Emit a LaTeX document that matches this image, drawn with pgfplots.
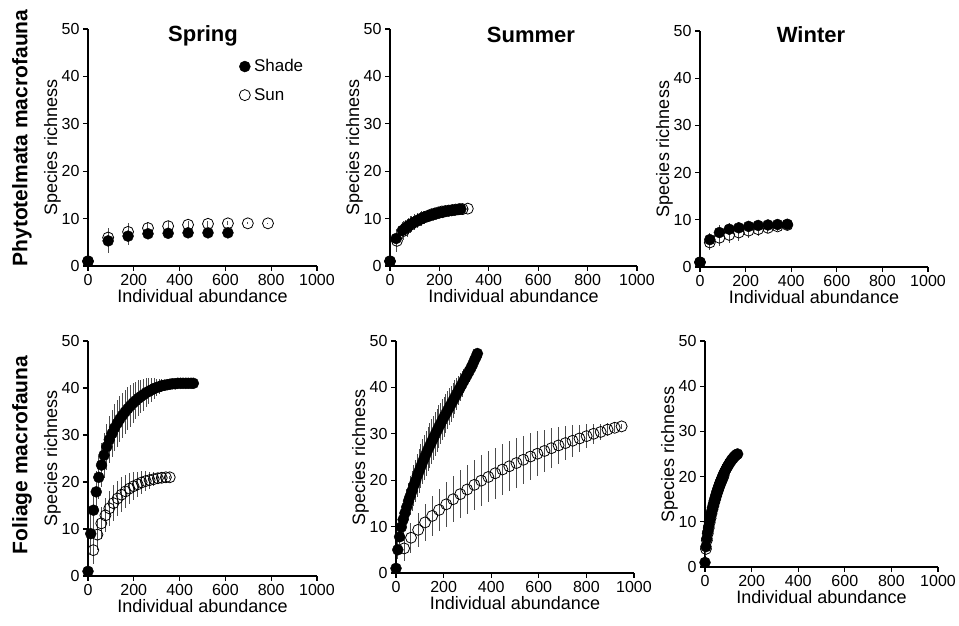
\documentclass[border=0pt]{standalone}
\usepackage{pgfplots}
\pgfplotsset{compat=1.18}
\usepackage{fontspec}
\setmainfont{Liberation Sans}

\pgfplotsset{
  rare/.style={
    scale only axis, axis lines*=left,
    xmin=0, xmax=1000, ymin=0, ymax=50,
    xtick={0,200,...,1000}, ytick={0,10,...,50},
    tick align=outside, major tick length=5pt,
    every tick/.style={black, line width=1.2pt},
    axis line style={line width=1.3pt},
    clip=false,
    ticklabel style={font=\fontsize{16}{18}\selectfont},
    /pgf/number format/assume math mode=true,
    /pgf/number format/1000 sep={},
    xlabel={Individual abundance}, ylabel={Species richness},
    label style={font=\fontsize{18}{20}\selectfont},
    xlabel style={yshift=3pt},
    ylabel style={yshift=-6pt},
  },
  ebar/.style={error bars/y dir=both, error bars/y explicit, error bars/error mark=none,
    error bars/error bar style={line width=1pt, black!70}},
  shade/.style={only marks, mark=*, mark size=5.5pt, black, ebar},
  sun/.style={only marks, mark=o, mark size=5.5pt, black, mark options={line width=0.8pt}, ebar},
}

\begin{document}
\begin{tikzpicture}
\path[use as bounding box] (0,0) rectangle (959pt,626pt);

% row labels
\node[rotate=90, font=\fontsize{21}{23}\selectfont\bfseries] at (22pt,488pt) {Phytotelmata macrofauna};
\node[rotate=90, font=\fontsize{21}{23}\selectfont\bfseries] at (22pt,171pt) {Foliage macrofauna};

% season titles
\node[anchor=base, font=\fontsize{22}{24}\selectfont\bfseries] at (203pt,584pt) {Spring};
\node[anchor=base, font=\fontsize{22}{24}\selectfont\bfseries] at (531pt,583pt) {Summer};
\node[anchor=base, font=\fontsize{22}{24}\selectfont\bfseries] at (811pt,583pt) {Winter};

% phytotelmata spring
\begin{axis}[rare, at={(88pt,360pt)}, anchor=south west, width=229pt, height=237pt,
  legend cell align=left,
  legend style={at={(0.66,0.88)}, anchor=north west, draw=none, fill=none,
    font=\fontsize{17}{19}\selectfont, row sep=11pt, inner sep=0pt},
  legend image code/.code={\path (0pt,0pt) (12pt,0pt); \draw[#1] plot coordinates {(5pt,0pt)};}]
\addlegendimage{only marks, mark=*, mark size=5.5pt, black}
\addlegendentry{Shade}
\addlegendimage{only marks, mark=o, mark size=5.5pt, black, mark options={line width=0.8pt}}
\addlegendentry{Sun}
\addplot[sun, forget plot] table[x=x, y=y, y error=e] {
x y e
0 1 0
88 6.0 2.0
175 7.2 1.8
262 8.0 1.2
350 8.4 1.0
437 8.7 0.8
524 8.9 0.6
611 9.0 0.4
698 9.0 0.2
786 9.0 0.1
};
\addplot[shade, forget plot] table[x=x, y=y, y error=e] {
x y e
0 1 0.3
88 5.3 2.5
175 6.3 1.9
262 6.8 1.0
350 6.9 0.8
437 7.0 0.6
524 7.0 0.4
611 7.0 0.3
};
\end{axis}

% phytotelmata summer
\begin{axis}[rare, at={(390pt,360pt)}, anchor=south west, width=247pt, height=237pt]
\addplot[sun] table[x=x, y=y, y error=e] {
x y e
0 1 0
28 5.3 2.4
56 7.4 2.0
70 8.1 1.9
84 8.7 1.8
98 9.2 1.7
112 9.6 1.6
126 10.0 1.5
140 10.3 1.4
154 10.6 1.3
168 10.9 1.2
182 11.1 1.1
196 11.3 1.0
210 11.5 0.9
224 11.6 0.8
238 11.7 0.7
252 11.8 0.6
266 11.9 0.5
280 12.0 0.4
294 12.0 0.3
315 12.1 0.2
};
\addplot[shade] table[x=x, y=y, y error=e] {
x y e
0 1 0.3
25 5.8 2.0
50 7.5 1.8
62 8.0 1.7
75 8.5 1.7
87 8.9 1.6
100 9.3 1.5
112 9.6 1.5
125 9.9 1.4
137 10.2 1.3
150 10.4 1.2
162 10.6 1.1
175 10.8 1.0
187 11.0 0.9
200 11.2 0.8
212 11.3 0.7
225 11.5 0.6
237 11.6 0.5
250 11.7 0.5
262 11.8 0.4
275 11.9 0.3
287 12.0 0.2
};
\end{axis}

% phytotelmata winter
\begin{axis}[rare, at={(700pt,359pt)}, anchor=south west, width=228pt, height=236pt]
\addplot[sun] table[x=x, y=y, y error=e] {
x y e
0 1 0
43 5.2 1.5
85 6.2 1.8
128 6.8 1.8
170 7.3 1.7
213 7.7 1.6
255 8.0 1.4
298 8.3 1.2
340 8.6 0.9
383 8.9 0.5
};
\addplot[shade] table[x=x, y=y, y error=e] {
x y e
0 1 0.3
43 5.8 1.5
85 7.3 1.5
128 8.0 1.3
170 8.3 1.2
213 8.6 1.0
255 8.8 0.9
298 8.9 0.7
340 9.0 0.5
383 9.05 0.3
};
\end{axis}

% foliage spring
\begin{axis}[rare, at={(88pt,50pt)}, anchor=south west, width=229pt, height=235pt]
\addplot[sun] table[x=x, y=y, y error=e] {
x y e
23 5.5 3.0
41 8.8 3.2
58 11.2 3.4
76 12.9 3.6
93 14.4 3.7
111 15.5 3.8
129 16.5 3.8
146 17.3 3.7
164 18.0 3.5
181 18.6 3.3
199 19.1 3.0
217 19.5 2.7
234 19.9 2.4
252 20.2 2.1
269 20.4 1.8
287 20.6 1.5
305 20.8 1.2
322 20.9 0.9
340 21.0 0.6
357 21.0 0.3
};
\addplot[shade] table[x=x, y=y, y error=e] {
x y e
0 1 0.3
12 9.0 4.5
24 14.0 4.5
36 17.9 4.5
47 21.0 4.6
59 23.6 4.7
70 25.7 4.8
82 27.5 4.9
93 29.0 5.0
105 30.3 5.0
116 31.5 5.0
128 32.5 5.0
139 33.4 4.9
151 34.2 4.8
162 34.9 4.7
174 35.6 4.6
185 36.2 4.4
197 36.8 4.2
208 37.3 4.0
220 37.8 3.8
231 38.2 3.6
243 38.6 3.4
254 39.0 3.1
266 39.3 2.8
277 39.6 2.5
289 39.9 2.2
300 40.1 1.9
312 40.3 1.6
323 40.5 1.4
335 40.6 1.2
346 40.7 1.0
358 40.8 0.8
369 40.9 0.7
381 40.9 0.6
392 41.0 0.5
404 41.0 0.4
415 41.0 0.3
427 41.0 0.2
438 41.0 0.2
450 41.0 0.1
460 41.0 0.1
};
\end{axis}

% foliage summer
\begin{axis}[rare, at={(396pt,53pt)}, anchor=south west, width=238pt, height=232pt]
\addplot[sun] table[x=x, y=y, y error=e] {
x y e
34 5.3 2.8
63 7.6 3.2
93 9.3 3.6
122 10.9 4.0
152 12.3 4.3
181 13.6 4.6
211 14.8 4.8
240 15.9 5.0
270 17.0 5.2
299 18.0 5.3
329 19.0 5.4
358 19.9 5.5
388 20.7 5.5
417 21.5 5.5
447 22.3 5.5
476 23.0 5.4
506 23.7 5.3
535 24.4 5.2
565 25.1 5.0
594 25.7 4.8
624 26.3 4.6
653 26.9 4.3
683 27.5 4.0
712 28.0 3.7
742 28.5 3.4
771 29.0 3.0
801 29.5 2.6
830 30.0 2.2
860 30.4 1.8
889 30.9 1.4
919 31.3 1.0
948 31.6 0.6
};
\addplot[shade] table[x=x, y=y, y error=e] {
x y e
0 1.0 0.3
7.5 5.0 2.0
15 7.8 2.5
22.5 9.9 3.0
30 11.5 3.3
37.5 12.9 3.6
45 14.2 3.8
52.5 15.5 4.0
60 16.6 4.2
67.5 17.7 4.3
75 18.9 4.4
82.5 19.9 4.5
90 21.0 4.6
97.5 22.0 4.7
105 23.0 4.7
112.5 24.0 4.8
120 24.9 4.8
127.5 25.8 4.8
135 26.7 4.8
142.5 27.5 4.8
150 28.3 4.8
157.5 29.1 4.8
165 29.9 4.7
172.5 30.7 4.7
180 31.5 4.6
187.5 32.2 4.5
195 33.0 4.4
202.5 33.7 4.3
210 34.4 4.2
217.5 35.1 4.1
225 35.8 4.0
232.5 36.5 3.9
240 37.2 3.8
247.5 37.9 3.6
255 38.6 3.4
262.5 39.3 3.2
270 40.0 3.0
277.5 40.7 2.8
285 41.4 2.6
292.5 42.1 2.4
300 42.8 2.2
307.5 43.5 2.0
315 44.2 1.8
322.5 45.0 1.5
330 45.9 1.2
337.5 46.7 0.8
342 47.3 0.4
};
\end{axis}

% foliage winter
\begin{axis}[rare, at={(705pt,59pt)}, anchor=south west, width=233pt, height=226pt]
\addplot[sun] table[x=x, y=y, y error=e] {
x y e
4 4.0 1.5
8 5.9 1.8
12 7.4 2.0
16 8.6 2.2
20 9.8 2.3
24 10.8 2.4
28 11.8 2.5
32 12.7 2.5
36 13.5 2.5
40 14.3 2.5
44 15.0 2.5
48 15.7 2.5
52 16.4 2.4
56 17.0 2.4
60 17.6 2.3
64 18.2 2.3
68 18.7 2.2
72 19.2 2.2
76 19.7 2.1
80 20.2 2.0
};
\addplot[shade] table[x=x, y=y, y error=e] {
x y e
0 1 0.3
4 4.5 1.5
8 6.3 2.0
12 7.8 2.2
16 9.0 2.4
20 10.2 2.5
24 11.2 2.6
28 12.2 2.7
32 13.1 2.7
36 13.9 2.8
40 14.7 2.8
44 15.4 2.8
48 16.1 2.8
52 16.8 2.8
56 17.4 2.8
60 18.0 2.8
64 18.6 2.7
68 19.1 2.7
72 19.6 2.6
76 20.1 2.6
80 20.6 2.5
84 21.0 2.5
88 21.4 2.4
92 21.8 2.3
96 22.2 2.2
100 22.5 2.1
104 22.9 2.0
108 23.2 1.9
112 23.5 1.7
116 23.8 1.5
120 24.0 1.3
124 24.3 1.1
128 24.5 0.9
132 24.7 0.7
136 24.9 0.5
140 25.0 0.3
};
\end{axis}
\end{tikzpicture}
\end{document}
